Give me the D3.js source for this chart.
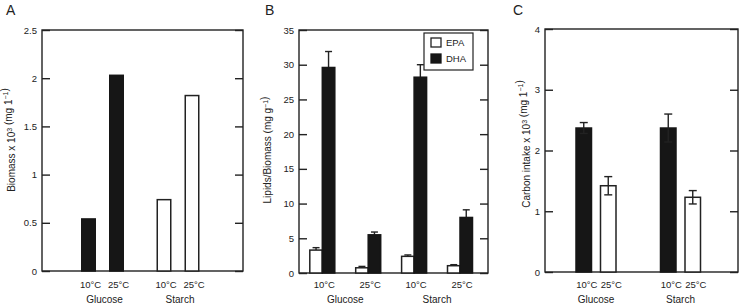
<!DOCTYPE html>
<html>
<head>
<meta charset="utf-8">
<script src="https://cdn.jsdelivr.net/npm/d3@7/dist/d3.min.js"></script>
<style>
  html, body { margin: 0; padding: 0; background: #fff; }
  svg { display: block; }
  text { font-family: "Liberation Sans", Arial, Helvetica, sans-serif; fill: #222; }
</style>
</head>
<body>
<svg id="chart" width="739" height="306"></svg>
<script>
// ---------- data ----------
const substrates = ["Glucose", "Starch"];
const temps = ["10°C", "25°C"];

// Panel A: biomass (x10^3 mg l^-1), order: Glucose 10, Glucose 25, Starch 10, Starch 25
const biomass = [0.54, 2.03, 0.74, 1.82];
const biomassTicks = [0, 0.5, 1, 1.5, 2, 2.5];

// Panel B: lipids / biomass (mg g^-1)
const epa = [3.3, 0.75, 2.4, 1.05];
const epaErr = [0.35, 0.2, 0.2, 0.15];
const dha = [29.6, 5.5, 28.2, 8.0];
const dhaErr = [2.3, 0.4, 1.8, 1.1];
const lipidTicks = [0, 5, 10, 15, 20, 25, 30, 35];
const lipidSeries = ["EPA", "DHA"];

// Panel C: carbon intake (x10^3 mg l^-1)
const carbon = [2.37, 1.42, 2.37, 1.23];
const carbonErr = [0.09, 0.15, 0.23, 0.11];
const carbonTicks = [0, 1, 2, 3, 4];

// ---------- helpers ----------
const BLACK = "#161616";
const STROKE = "#222";
const conditions = substrates.flatMap(s => temps.map(t => ({ s, t })));
const svg = d3.select("#chart");

function frame(cfg, ticks) {
  const y = d3.scaleLinear().domain([0, ticks[ticks.length - 1]]).range([cfg.y1, cfg.y0]);
  const g = svg.append("g");
  g.append("rect")
    .attr("x", cfg.x0).attr("y", cfg.y0)
    .attr("width", cfg.x1 - cfg.x0).attr("height", cfg.y1 - cfg.y0)
    .attr("fill", "none").attr("stroke", STROKE).attr("stroke-width", 1.4);
  const left = g.append("g").attr("transform", `translate(${cfg.x0},0)`)
    .call(d3.axisLeft(y).tickValues(ticks).tickSizeInner(-8).tickSizeOuter(0).tickPadding(5)
      .tickFormat(d => String(d)));
  const right = g.append("g").attr("transform", `translate(${cfg.x1},0)`)
    .call(d3.axisRight(y).tickValues(ticks).tickSizeInner(-8).tickSizeOuter(0).tickFormat(""));
  [left, right].forEach(a => {
    a.select(".domain").remove();
    a.selectAll("line").attr("stroke", STROKE).attr("stroke-width", 1.4);
    a.selectAll("text").style("font-size", "9.5px").attr("fill", "#222");
  });
  // panel letter
  svg.append("text").attr("x", cfg.letterX).attr("y", 15)
    .style("font-size", "14px").text(cfg.letter);
  // y title
  const t = svg.append("text")
    .attr("transform", `translate(${cfg.titleX},${cfg.titleY}) rotate(-90)`)
    .attr("text-anchor", "middle").style("font-size", "10px");
  cfg.title.forEach(p => {
    if (p.sup) {
      t.append("tspan").attr("dy", -3.5).style("font-size", "7px").text(p.sup);
      t.append("tspan").attr("dy", 3.5).text("");
    } else {
      t.append("tspan").text(p.txt);
    }
  });
  return y;
}

function xLabels(tempX, groupX) {
  conditions.forEach((c, i) => {
    svg.append("text").attr("x", tempX(i)).attr("y", 288)
      .attr("text-anchor", "middle").style("font-size", "9.5px").text(c.t);
  });
  substrates.forEach(s => {
    svg.append("text").attr("x", groupX(s)).attr("y", 303)
      .attr("text-anchor", "middle").style("font-size", "10px").text(s);
  });
}

// ---------- Panel A ----------
{
  const cfg = { x0: 42, x1: 243, y0: 30, y1: 271, letter: "A", letterX: 6,
    titleX: 15, titleY: 140,
    title: [{ txt: "Biomass x 10" }, { sup: "3" }, { txt: " (mg 1" }, { sup: "−1" }, { txt: ")" }] };
  const y = frame(cfg, biomassTicks);
  const gx = d3.scalePoint().domain(substrates).range([102.5, 178]);
  const tx = d3.scalePoint().domain(temps).range([-14, 14]);
  const bw = 13.5;
  const cx = i => gx(conditions[i].s) + tx(conditions[i].t);
  svg.append("g").selectAll("rect").data(biomass).join("rect")
    .attr("x", (d, i) => cx(i) - bw / 2)
    .attr("y", d => y(d))
    .attr("width", bw)
    .attr("height", d => y(0) - y(d))
    .attr("fill", (d, i) => conditions[i].s === "Glucose" ? BLACK : "#fff")
    .attr("stroke", (d, i) => conditions[i].s === "Glucose" ? BLACK : STROKE)
    .attr("stroke-width", 1.5);
  xLabels(i => cx(i) + 2, s => gx(s) + 2);
}

// ---------- Panel B ----------
{
  const cfg = { x0: 299, x1: 488, y0: 30, y1: 273, letter: "B", letterX: 265,
    titleX: 271, titleY: 150,
    title: [{ txt: "Lipids/Biomass (mg g" }, { sup: "−1" }, { txt: ")" }] };
  const y = frame(cfg, lipidTicks);
  const px = d3.scalePoint().domain(d3.range(conditions.length)).range([322.3, 460]);
  const sx = d3.scaleBand().domain(lipidSeries).range([-12.5, 12.5]);
  const bw = sx.bandwidth();
  const series = [
    { name: "EPA", vals: epa, errs: epaErr, fill: "#fff", stroke: STROKE },
    { name: "DHA", vals: dha, errs: dhaErr, fill: BLACK, stroke: BLACK }
  ];
  series.forEach(se => {
    const g = svg.append("g");
    const xl = i => px(i) + sx(se.name);
    // error whiskers (upper)
    g.selectAll("line.w").data(se.vals).join("line")
      .attr("x1", (d, i) => xl(i) + bw / 2).attr("x2", (d, i) => xl(i) + bw / 2)
      .attr("y1", d => y(d)).attr("y2", (d, i) => y(d + se.errs[i]))
      .attr("stroke", STROKE).attr("stroke-width", 1.4);
    g.selectAll("line.c").data(se.vals).join("line")
      .attr("x1", (d, i) => xl(i) + bw / 2 - 3.5).attr("x2", (d, i) => xl(i) + bw / 2 + 3.5)
      .attr("y1", (d, i) => y(d + se.errs[i])).attr("y2", (d, i) => y(d + se.errs[i]))
      .attr("stroke", STROKE).attr("stroke-width", 1.4);
    g.selectAll("rect").data(se.vals).join("rect")
      .attr("x", (d, i) => xl(i)).attr("y", d => y(d))
      .attr("width", bw).attr("height", d => y(0) - y(d))
      .attr("fill", se.fill).attr("stroke", se.stroke).attr("stroke-width", 1.5);
  });
  xLabels(i => px(i) + 2, s => {
    const idx = conditions.map((c, i) => c.s === s ? px(i) : null).filter(v => v !== null);
    return d3.mean(idx);
  });
  // legend
  const lg = svg.append("g");
  lg.append("rect").attr("x", 424).attr("y", 33).attr("width", 49).attr("height", 37)
    .attr("fill", "#fff").attr("stroke", STROKE).attr("stroke-width", 1.2);
  series.forEach((se, k) => {
    lg.append("rect").attr("x", 431).attr("y", 38 + k * 16).attr("width", 10).attr("height", 9)
      .attr("fill", se.fill).attr("stroke", se.stroke).attr("stroke-width", 1.3);
    lg.append("text").attr("x", 446).attr("y", 46 + k * 16)
      .style("font-size", "9.5px").text(se.name);
  });
}

// ---------- Panel C ----------
{
  const cfg = { x0: 545, x1: 738, y0: 29, y1: 272, letter: "C", letterX: 513,
    titleX: 530, titleY: 144,
    title: [{ txt: "Carbon intake x 10" }, { sup: "3" }, { txt: " (mg 1" }, { sup: "−1" }, { txt: ")" }] };
  const y = frame(cfg, carbonTicks);
  const gx = d3.scalePoint().domain(substrates).range([596, 680.5]);
  const tx = d3.scalePoint().domain(temps).range([-12.25, 12.25]);
  const bw = 15.5;
  const cx = i => gx(conditions[i].s) + tx(conditions[i].t);
  const g = svg.append("g");
  g.selectAll("rect").data(carbon).join("rect")
    .attr("x", (d, i) => cx(i) - bw / 2).attr("y", d => y(d))
    .attr("width", bw).attr("height", d => y(0) - y(d))
    .attr("fill", (d, i) => conditions[i].t === "10°C" ? BLACK : "#fff")
    .attr("stroke", (d, i) => conditions[i].t === "10°C" ? BLACK : STROKE)
    .attr("stroke-width", 1.5);
  g.selectAll("line.w").data(carbon).join("line")
    .attr("x1", (d, i) => cx(i)).attr("x2", (d, i) => cx(i))
    .attr("y1", (d, i) => y(d - carbonErr[i])).attr("y2", (d, i) => y(d + carbonErr[i]))
    .attr("stroke", STROKE).attr("stroke-width", 1.4);
  [-1, 1].forEach(sg => {
    g.selectAll(null).data(carbon).join("line")
      .attr("x1", (d, i) => cx(i) - 4).attr("x2", (d, i) => cx(i) + 4)
      .attr("y1", (d, i) => y(d + sg * carbonErr[i])).attr("y2", (d, i) => y(d + sg * carbonErr[i]))
      .attr("stroke", STROKE).attr("stroke-width", 1.4);
  });
  xLabels(i => cx(i) + 3, s => gx(s));
}
</script>
</body>
</html>
